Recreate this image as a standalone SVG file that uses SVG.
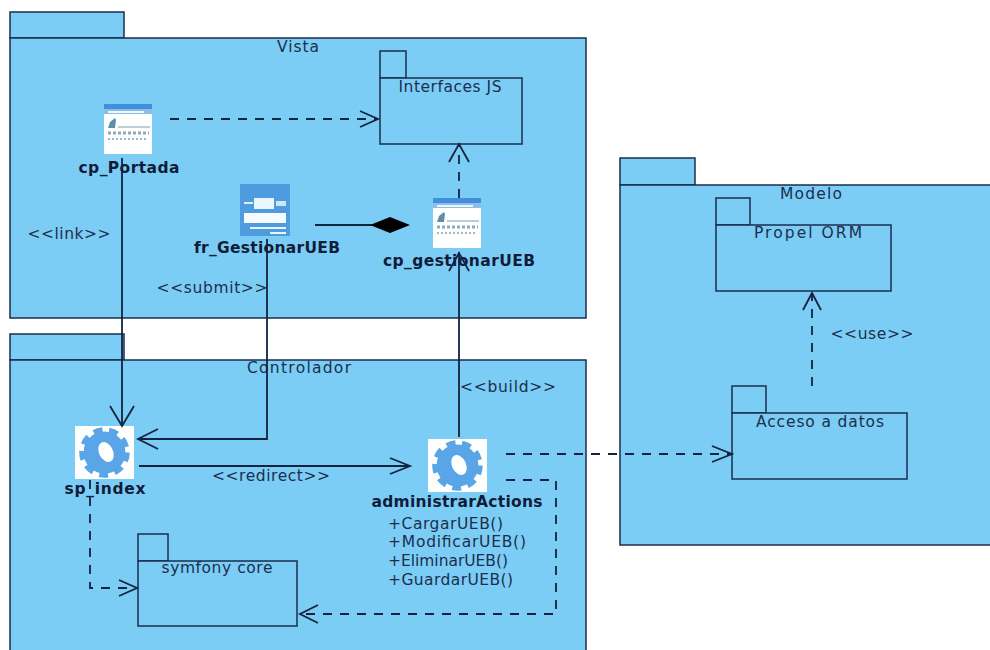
<svg xmlns="http://www.w3.org/2000/svg" width="990" height="650" viewBox="0 0 990 650">
<style>
.pk{fill:#7bcdf5;stroke:#1a2e4c;stroke-width:1.5}
.t{font-family:"DejaVu Sans",sans-serif;font-size:15.5px;fill:#1c2f4d}
.m{text-anchor:middle}
.b{font-family:"DejaVu Sans",sans-serif;font-size:15.5px;font-weight:bold;fill:#101c38;text-anchor:middle}
.l{fill:none;stroke:#14233f;stroke-width:1.8}
.d{stroke-dasharray:9 8}
.h{fill:none;stroke:#14233f;stroke-width:1.8}
</style>
<defs>
<g id="page">
<rect width="48" height="50" fill="#fff"/>
<rect width="48" height="5" fill="#3f8fdc"/>
<rect y="5" width="48" height="5" fill="#8fbde6"/>
<rect x="4" y="7" width="36" height="2" fill="#eef6fc"/>
<path d="M4 24l2-6 5-4 1 2-1 8z" fill="#5f8fa8"/>
<path d="M14 23h32" stroke="#7f9ab0" stroke-width="1"/>
<path d="M4 29h41" stroke="#8fa9bd" stroke-width="3" stroke-dasharray="3 2"/>
<path d="M4 35h39" stroke="#9fb7c9" stroke-width="2" stroke-dasharray="2 2"/>
</g>
<g id="gear">
<rect width="59" height="53" fill="#fff"/>
<circle cx="29.500" cy="26.500" r="21" fill="#5aa5e8"/>
<circle cx="29.500" cy="26.500" r="22.500" fill="none" stroke="#5aa5e8" stroke-width="5.500" stroke-dasharray="9 6.710"/>
<ellipse cx="31" cy="26" rx="7" ry="10.500" transform="rotate(-25 31 26)" fill="#fff"/>
</g>
</defs>

<g id="vista">
<rect class="pk" x="10" y="12" width="114" height="26"/>
<rect class="pk" x="10" y="38" width="576" height="280"/>
<text class="t m" x="298" y="52" textLength="42">Vista</text>
</g>
<g id="controlador">
<rect class="pk" x="10" y="334" width="114" height="26"/>
<rect class="pk" x="10" y="360" width="576" height="300"/>
<text class="t m" x="299" y="373" textLength="104">Controlador</text>
</g>
<g id="modelo">
<rect class="pk" x="620" y="158" width="75" height="27"/>
<rect class="pk" x="620" y="185" width="380" height="360"/>
<text class="t m" x="811" y="199" textLength="62">Modelo</text>
</g>
<g id="interfaces-js">
<rect class="pk" x="380" y="51" width="26" height="27"/>
<rect class="pk" x="380" y="78" width="142" height="66"/>
<text class="t m" x="450" y="92" textLength="103">Interfaces JS</text>
</g>
<g id="propel-orm">
<rect class="pk" x="716" y="198" width="34" height="27"/>
<rect class="pk" x="716" y="225" width="175" height="66"/>
<text class="t m" x="808" y="238" textLength="108">Propel ORM</text>
</g>
<g id="acceso-a-datos">
<rect class="pk" x="732" y="386" width="34" height="27"/>
<rect class="pk" x="732" y="413" width="175" height="66"/>
<text class="t m" x="820" y="427" textLength="128">Acceso a datos</text>
</g>
<g id="symfony-core">
<rect class="pk" x="138" y="534" width="30" height="27"/>
<rect class="pk" x="138" y="561" width="159" height="65"/>
<text class="t m" x="217" y="573" textLength="111">symfony core</text>
</g>

<g id="cp-portada">
<use href="#page" x="104" y="104"/>
<text class="b" x="129" y="173" textLength="101">cp_Portada</text>
</g>
<g id="fr-gestionar-ueb">
<rect x="240" y="184" width="50" height="52" fill="#4f9be0"/>
<rect x="244" y="202" width="9" height="2" fill="#dff0fb"/>
<rect x="254" y="198" width="20" height="11" fill="#eaf6fd"/>
<rect x="276" y="201" width="10" height="5" fill="#cfe6f7"/>
<rect x="244" y="213" width="42" height="10" fill="#f4fbff"/>
<rect x="250" y="227" width="36" height="2" fill="#eaf6fd"/>
<rect x="270" y="232" width="16" height="2" fill="#eaf6fd"/>
<text class="b" x="267" y="253" textLength="146">fr_GestionarUEB</text>
</g>
<g id="cp-gestionar-ueb">
<use href="#page" x="433" y="198"/>
<text class="b" x="459" y="266" textLength="152">cp_gestionarUEB</text>
</g>
<g id="sp-index">
<use href="#gear" x="75" y="426"/>
<text class="b" x="105" y="494" textLength="81">sp_index</text>
</g>
<g id="administrar-actions">
<use href="#gear" x="428" y="439"/>
<text class="b" x="457" y="507" textLength="171">administrarActions</text>
<text class="t" x="388" y="529" textLength="115">+CargarUEB()</text>
<text class="t" x="388" y="547" textLength="138">+ModificarUEB()</text>
<text class="t" x="388" y="566" textLength="120">+EliminarUEB()</text>
<text class="t" x="388" y="585" textLength="125">+GuardarUEB()</text>
</g>

<g id="connectors">
<path class="l d" d="M170 119H376"/><path class="h" d="M360 111l18 8-18 8"/>
<path class="l" d="M122 158V424"/><path class="h" d="M110 406l12 20 12-20"/>
<path class="l" d="M315 225H372"/><path d="M370 225l20-8 20 8-20 8z" fill="#000"/>
<path class="l" d="M267 239V439H140"/><path class="h" d="M158 429l-20 10 20 10"/>
<path class="l" d="M459 437V252"/><path class="h" d="M449 271l10-18 10 18"/>
<path class="l d" d="M459 198V146"/><path class="h" d="M449 162l10-18 10 18"/>
<path class="l" d="M139 466H408"/><path class="h" d="M390 458l20 8-20 8"/>
<path class="l d" d="M90 480V588H135"/><path class="h" d="M119 580l18 8-18 8"/>
<path class="l d" d="M506 454H730"/><path class="h" d="M712 446l20 8-20 8"/>
<path class="l d" d="M506 480H556V614H302"/><path class="h" d="M318 605l-18 9 18 9"/>
<path class="l d" d="M812 386V295"/><path class="h" d="M803 310l9-17 9 17"/>
</g>

<g id="labels">
<text class="t m" x="69" y="239" textLength="83">&lt;&lt;link&gt;&gt;</text>
<text class="t m" x="212" y="293" textLength="111">&lt;&lt;submit&gt;&gt;</text>
<text class="t m" x="508" y="392" textLength="96">&lt;&lt;build&gt;&gt;</text>
<text class="t m" x="271" y="481" textLength="118">&lt;&lt;redirect&gt;&gt;</text>
<text class="t m" x="872" y="339" textLength="83">&lt;&lt;use&gt;&gt;</text>
</g>
</svg>
